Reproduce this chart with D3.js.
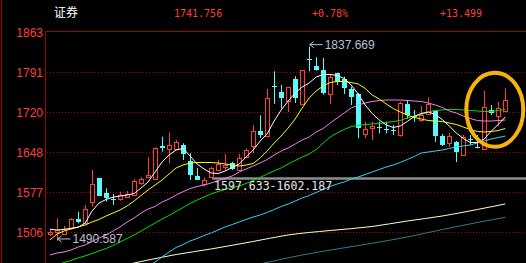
<!DOCTYPE html>
<html>
<head>
<meta charset="utf-8">
<script src="https://cdn.jsdelivr.net/npm/d3@7"></script>
<style>
  html, body { margin: 0; padding: 0; background: #000; overflow: hidden; }
  svg { display: block; }
</style>
</head>
<body>
<div id="root"></div>
<script>
const width = 526;
const height = 263;
const margin = { top: 31, left: 45 };

// Header quote
const title = '证券';
const lastPrice = '1741.756';
const changePct = '+0.78%';
const changeAbs = '+13.499';

// Price axis ticks
const yTicks = [1506, 1577.45, 1648.9, 1720.35, 1791.8, 1863.25];

// Daily candles
const open = [
  1503.0, 1507.4, 1502.4, 1513.1, 1529.2, 1523.1, 1560.7, 1602.5, 1576.7, 1565.5,
  1565.5, 1569.6, 1572.6, 1593.5, 1604.2, 1601.2, 1660.2, 1654.3, 1654.3, 1662.0,
  1633.4, 1606.6, 1591.7, 1604.8, 1617.3, 1622.1, 1629.3, 1617.3, 1640.0, 1659.6,
  1686.4, 1677.5, 1767.3, 1756.6, 1740.0, 1779.8, 1735.7, 1816.1, 1802.5, 1795.4,
  1753.0, 1790.0, 1779.3, 1761.4, 1753.0, 1681.6, 1691.8, 1694.1, 1691.4, 1689.3,
  1679.8, 1734.3, 1713.2, 1706.6, 1717.3, 1722.7, 1678.0, 1665.0, 1667.3, 1644.1,
  1672.7, 1658.4, 1654.3, 1724.5, 1713.7, 1723.2,
];
const close = [
  1507.1, 1510.1, 1511.4, 1529.2, 1524.9, 1547.1, 1591.7, 1571.4, 1566.7, 1564.4,
  1572.1, 1573.9, 1597.6, 1600.7, 1608.4, 1656.0, 1656.0, 1662.0, 1666.8, 1645.3,
  1608.4, 1600.1, 1599.8, 1620.3, 1628.0, 1627.1, 1618.5, 1638.2, 1653.0, 1686.4,
  1680.3, 1745.9, 1766.1, 1745.9, 1765.0, 1745.9, 1795.4, 1815.0, 1796.4, 1754.8,
  1783.4, 1775.0, 1763.2, 1747.1, 1692.3, 1690.0, 1695.9, 1693.0, 1690.5, 1688.2,
  1736.4, 1715.5, 1712.0, 1715.5, 1735.2, 1678.0, 1661.9, 1678.0, 1650.0, 1676.8,
  1671.6, 1657.3, 1729.3, 1719.6, 1728.3, 1741.8,
];
const high = [
  1511.4, 1531.0, 1517.3, 1531.0, 1542.8, 1554.8, 1617.3, 1602.5, 1584.6, 1574.4,
  1578.5, 1579.8, 1600.7, 1604.2, 1640.0, 1657.8, 1676.8, 1683.9, 1670.9, 1665.0,
  1647.1, 1620.9, 1603.9, 1623.2, 1635.7, 1645.9, 1632.1, 1645.9, 1656.0, 1697.1,
  1715.0, 1762.0, 1793.6, 1769.6, 1765.0, 1784.7, 1795.9, 1837.669, 1818.6, 1817.3,
  1788.8, 1791.1, 1784.0, 1766.1, 1754.8, 1703.6, 1703.6, 1703.6, 1703.6, 1697.7,
  1739.3, 1742.3, 1724.5, 1731.6, 1747.1, 1724.5, 1681.6, 1683.4, 1669.1, 1679.8,
  1679.8, 1679.8, 1758.9, 1733.4, 1739.3, 1763.2,
];
const low = [
  1499.4, 1490.587, 1501.2, 1511.4, 1522.1, 1522.1, 1551.7, 1571.4, 1560.7, 1554.8,
  1562.4, 1568.5, 1570.8, 1590.5, 1602.5, 1601.2, 1650.0, 1629.3, 1653.0, 1635.1,
  1599.4, 1599.4, 1587.8, 1604.2, 1615.5, 1616.4, 1617.3, 1616.0, 1638.2, 1647.6,
  1674.4, 1675.7, 1735.2, 1726.8, 1720.9, 1737.0, 1735.2, 1793.6, 1794.7, 1751.8,
  1735.2, 1769.1, 1753.0, 1733.4, 1673.9, 1673.9, 1670.9, 1682.8, 1682.8, 1679.8,
  1676.8, 1708.4, 1703.6, 1703.6, 1717.3, 1667.3, 1660.2, 1658.4, 1631.6, 1644.1,
  1661.9, 1656.0, 1654.3, 1715.5, 1695.9, 1723.2,
];

// Moving averages (one value per candle)
const ma5 = [
  1511.4, 1510.1, 1511.4, 1513.1, 1514.9, 1522.1, 1544.0, 1558.3, 1564.6, 1568.7,
  1570.8, 1572.6, 1575.3, 1585.1, 1595.8, 1613.7, 1631.6, 1644.1, 1653.0, 1655.7,
  1642.3, 1628.0, 1619.1, 1611.9, 1611.0, 1615.5, 1621.7, 1628.0, 1640.5, 1653.0,
  1669.1, 1681.6, 1704.8, 1724.5, 1740.5, 1754.8, 1765.5, 1772.7, 1783.4, 1787.9,
  1787.9, 1786.1, 1780.7, 1769.1, 1753.0, 1733.4, 1718.2, 1706.6, 1697.7, 1693.2,
  1695.9, 1703.9, 1712.9, 1718.2, 1720.9, 1716.4, 1707.5, 1695.9, 1683.4, 1673.6,
  1666.4, 1666.4, 1672.7, 1687.0, 1698.6, 1712.0,
];
const ma10 = [
  1492.2, 1503.0, 1508.3, 1511.9, 1515.5, 1519.0, 1524.4, 1528.9, 1535.1, 1540.5,
  1545.8, 1553.0, 1561.9, 1571.7, 1581.6, 1590.5, 1599.4, 1610.1, 1620.9, 1626.2,
  1629.8, 1630.7, 1630.7, 1630.7, 1629.8, 1628.0, 1626.2, 1624.4, 1626.2, 1628.9,
  1638.7, 1651.2, 1665.5, 1678.0, 1692.3, 1708.4, 1728.0, 1745.9, 1758.4, 1767.3,
  1773.6, 1775.4, 1775.4, 1773.6, 1770.9, 1762.9, 1751.3, 1744.1, 1735.2, 1727.1,
  1720.9, 1715.5, 1711.1, 1708.4, 1705.7, 1704.8, 1703.9, 1701.2, 1698.6, 1694.1,
  1689.6, 1686.1, 1685.2, 1686.1, 1687.9, 1691.4,
];
const ma20 = [
  1465.5, 1469.0, 1470.8, 1474.4, 1479.7, 1483.3, 1489.6, 1495.8, 1501.2, 1508.3,
  1515.5, 1524.4, 1531.5, 1540.5, 1547.6, 1552.1, 1560.1, 1565.5, 1572.6, 1578.5,
  1584.2, 1587.8, 1590.5, 1594.1, 1598.5, 1602.1, 1606.6, 1613.7, 1619.1, 1624.4,
  1629.8, 1636.0, 1644.1, 1651.2, 1656.6, 1663.7, 1670.9, 1676.2, 1685.2, 1691.4,
  1701.2, 1710.2, 1719.1, 1728.0, 1733.4, 1737.0, 1739.6, 1741.4, 1742.3, 1742.3,
  1742.3, 1741.4, 1740.5, 1739.6, 1737.0, 1733.4, 1728.9, 1722.7, 1719.1, 1713.7,
  1709.3, 1705.7, 1704.8, 1704.8, 1705.7, 1706.6,
];
const ma30 = [
  1444.0, 1447.6, 1452.1, 1455.6, 1460.1, 1463.7, 1468.1, 1472.6, 1477.1, 1482.4,
  1488.7, 1494.9, 1501.2, 1508.3, 1515.5, 1522.6, 1529.8, 1536.0, 1543.2, 1550.3,
  1557.4, 1563.7, 1569.1, 1574.4, 1578.9, 1582.5, 1586.0, 1588.7, 1593.2, 1598.5,
  1603.9, 1610.1, 1615.5, 1620.9, 1628.0, 1634.3, 1640.5, 1645.9, 1653.9, 1665.5,
  1676.2, 1683.4, 1689.6, 1694.9, 1696.8, 1698.6, 1699.5, 1700.3, 1702.1, 1703.9,
  1705.7, 1710.2, 1713.7, 1716.4, 1720.9, 1723.6, 1724.5, 1725.4, 1725.4, 1724.5,
  1723.6, 1722.7, 1721.8, 1721.8, 1723.6, 1725.4,
];
const ma60 = [
  null, null, null, null, null, null, null, null, null, null,
  null, null, null, null, 1445.8, 1452.9, 1461.9, 1470.8, 1478.8, 1484.2,
  1490.5, 1494.9, 1500.3, 1504.7, 1510.1, 1515.5, 1519.9, 1524.4, 1528.9, 1533.3,
  1536.9, 1541.4, 1546.7, 1552.1, 1556.6, 1561.9, 1567.3, 1571.7, 1577.1, 1582.5,
  1587.8, 1592.3, 1595.8, 1601.2, 1604.8, 1609.2, 1613.7, 1618.2, 1622.6, 1626.2,
  1630.7, 1636.0, 1641.4, 1647.6, 1649.4, 1651.2, 1653.0, 1655.7, 1658.4, 1660.2,
  1661.9, 1665.5, 1669.1, 1672.7, 1675.3, 1678.0,
];
// slow averages, sampled as [candle index, value]
const ma120 = [
  [10, 1445.8], [13, 1453.8], [18, 1466.3], [23, 1476.2], [29, 1489.6], [34, 1501.2],
  [40, 1509.2], [46, 1516.4], [51, 1526.2], [56, 1535.1], [61, 1546.7], [65, 1556.6],
];
const ma250 = [
  [30, 1449.4], [36, 1465.5], [41, 1476.2], [46, 1486.4], [51, 1497.6], [56, 1511.0],
  [61, 1523.5], [65, 1532.8],
];

// Annotations
const highIndex = 37;
const lowIndex = 1;
const rangeText = '1597.633-1602.187';
const rangeValue = 1602.187;
const rangeStart = 23;
const circleCenter = [63.5, 1725];

const red = '#ff3c3c';
const cyan = '#54fcfc';
const frame = '#a00000';

const svg = d3
  .select('#root')
  .append('svg')
  .attr('width', width)
  .attr('height', height)
  .style('background', '#000');

// Scales

const xScale = d3
  .scaleLinear()
  .domain([0, open.length - 1])
  .range([50, 505.3]);

const yScale = d3
  .scaleLinear()
  .domain([yTicks[0], yTicks[yTicks.length - 1]])
  .range([232.3, 32.3]);

const px = (i) => Math.round(xScale(i)) + 0.5;
const py = (v) => Math.round(yScale(v)) + 0.5;

// Frame

svg.append('line')
  .attr('x1', 1.5).attr('x2', 1.5).attr('y1', 0).attr('y2', height)
  .attr('stroke', frame);

svg.append('line')
  .attr('x1', margin.left + 0.5).attr('x2', margin.left + 0.5)
  .attr('y1', margin.top).attr('y2', height)
  .attr('stroke', frame);

svg.append('line')
  .attr('x1', margin.left).attr('x2', width)
  .attr('y1', margin.top + 0.5).attr('y2', margin.top + 0.5)
  .attr('stroke', frame);

// Grid

svg.append('g')
  .selectAll('line')
  .data(yTicks.slice(0, -1))
  .join('line')
  .attr('x1', margin.left + 2)
  .attr('x2', width)
  .attr('y1', (d) => py(d))
  .attr('y2', (d) => py(d))
  .attr('stroke', frame)
  .attr('stroke-dasharray', '1,2');

// Y axis

const yAxis = d3
  .axisLeft(yScale)
  .tickValues(yTicks)
  .tickFormat((d) => Math.floor(d))
  .tickSize(0)
  .tickPadding(2);

const axisG = svg
  .append('g')
  .attr('transform', `translate(${margin.left}, 0)`)
  .call(yAxis);

axisG.select('.domain').remove();
axisG.selectAll('text')
  .attr('fill', red)
  .style('font-family', '"Liberation Sans", Arial, sans-serif')
  .style('font-size', '12px');

// Header

const header = svg.append('g').style('font-size', '10px');

header.append('text')
  .attr('x', 54).attr('y', 17)
  .attr('fill', '#fff')
  .style('font-family', '"Noto Sans CJK SC", sans-serif')
  .style('font-size', '12px')
  .text(title);

[[lastPrice, 174], [changePct, 312], [changeAbs, 440]].forEach(([t, x]) => {
  header.append('text')
    .attr('x', x).attr('y', 17)
    .attr('fill', red)
    .style('font-family', '"DejaVu Sans Mono", monospace')
    .text(t);
});

// Plot area

svg.append('clipPath')
  .attr('id', 'plot')
  .append('rect')
  .attr('x', margin.left + 1).attr('y', margin.top + 1)
  .attr('width', width - margin.left).attr('height', height - margin.top);

const plot = svg.append('g').attr('clip-path', 'url(#plot)');

// Range line

plot.append('line')
  .attr('x1', xScale(rangeStart) + 1)
  .attr('x2', width)
  .attr('y1', yScale(rangeValue))
  .attr('y2', yScale(rangeValue))
  .attr('stroke', '#8c8c8c')
  .attr('stroke-width', 2.5);

// Candles

const candles = plot
  .append('g')
  .selectAll('g')
  .data(open.map((o, i) => ({ i, o, c: close[i], h: high[i], l: low[i] })))
  .join('g');

candles.each(function (d) {
  const g = d3.select(this);
  const x = px(d.i);
  const up = d.c >= d.o;
  const top = py(Math.max(d.o, d.c));
  const bot = py(Math.min(d.o, d.c));
  const color = up ? red : cyan;

  if (up) {
    g.append('line')
      .attr('x1', x).attr('x2', x)
      .attr('y1', yScale(d.h)).attr('y2', top)
      .attr('stroke', color);
    g.append('line')
      .attr('x1', x).attr('x2', x)
      .attr('y1', bot).attr('y2', yScale(d.l))
      .attr('stroke', color);
    g.append('rect')
      .attr('x', x - 2).attr('y', top)
      .attr('width', 4).attr('height', Math.max(bot - top, 1))
      .attr('fill', '#000')
      .attr('stroke', color);
  } else {
    g.append('line')
      .attr('x1', x).attr('x2', x)
      .attr('y1', yScale(d.h)).attr('y2', yScale(d.l))
      .attr('stroke', color);
    g.append('rect')
      .attr('x', x - 2.5).attr('y', top - 0.5)
      .attr('width', 5).attr('height', Math.max(bot - top, 1))
      .attr('fill', color);
  }
});

// Moving averages

const lineByIndex = d3
  .line()
  .defined((d) => d != null)
  .x((d, i) => xScale(i))
  .y((d) => yScale(d));

const linePairs = d3
  .line()
  .curve(d3.curveMonotoneX)
  .x((d) => xScale(d[0]))
  .y((d) => yScale(d[1]));

const maSeries = [
  { data: ma250, color: '#2f7c86', pairs: true },
  { data: ma120, color: '#ffffc0', pairs: true },
  { data: ma60, color: '#2ed2f5' },
  { data: ma30, color: '#00e000' },
  { data: ma20, color: '#ee82ee' },
  { data: ma10, color: '#ffff00' },
  { data: ma5, color: '#ffffff' },
];

maSeries.forEach((s) => {
  plot.append('path')
    .attr('d', s.pairs ? linePairs(s.data) : lineByIndex(s.data))
    .attr('fill', 'none')
    .attr('stroke', s.color)
    .attr('stroke-width', 1);
});

// High / low labels

const labelColor = '#b9c2d2';

function arrowLabel(i, v, text) {
  const x = xScale(i) + 0.5;
  const y = yScale(v) - 2;
  const g = plot.append('g');
  g.append('path')
    .attr('d', `M${x},${y} L${x + 13},${y} M${x},${y} l4,-3 M${x},${y} l4,3`)
    .attr('stroke', labelColor)
    .attr('fill', 'none');
  g.append('text')
    .attr('x', x + 15)
    .attr('y', y)
    .attr('dy', '0.36em')
    .attr('fill', labelColor)
    .style('font-family', '"Liberation Sans", Arial, sans-serif')
    .style('font-size', '12px')
    .text(text);
}

arrowLabel(highIndex, high[highIndex], d3.format('.3f')(high[highIndex]));
arrowLabel(lowIndex, low[lowIndex], d3.format('.3f')(low[lowIndex]));

plot.append('text')
  .attr('x', xScale(rangeStart) + 3)
  .attr('y', yScale(rangeValue) + 7)
  .attr('dy', '0.36em')
  .attr('fill', '#e6e6e6')
  .attr('textLength', 118)
  .attr('lengthAdjust', 'spacingAndGlyphs')
  .style('font-family', '"DejaVu Sans Mono", monospace')
  .style('font-size', '12px')
  .text(rangeText);

// Highlight ring

plot.append('ellipse')
  .attr('cx', xScale(circleCenter[0]))
  .attr('cy', yScale(circleCenter[1]))
  .attr('rx', 28.5)
  .attr('ry', 37)
  .attr('fill', 'none')
  .attr('stroke', '#f7b20c')
  .attr('stroke-width', 4);
</script>
</body>
</html>
